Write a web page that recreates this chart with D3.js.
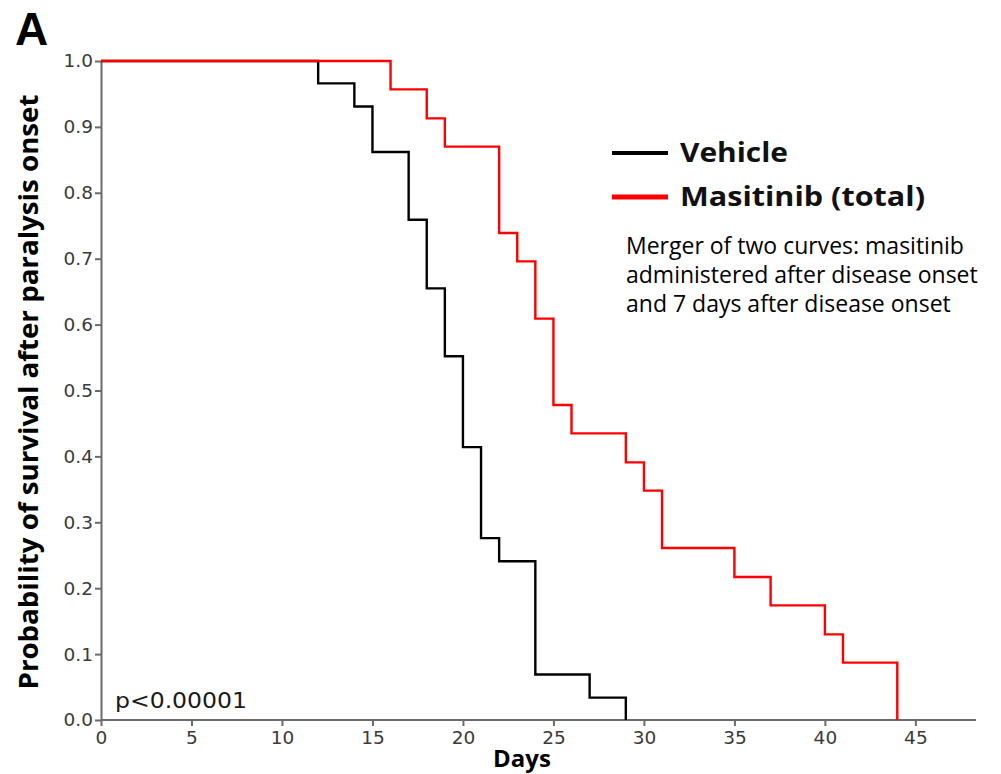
<!DOCTYPE html>
<html lang="en">
	<head>
		<meta charset="utf-8">
		<title>Survival after paralysis onset</title>
		<script src="https://d3js.org/d3.v7.min.js"></script>
		<style type="text/css">
			body { margin: 0; background: #fff; }
			.axis path, .axis line { stroke: #6b6b6b; stroke-width: 2; }
			.axis text { font-family: "DejaVu Sans", sans-serif; font-size: 18.5px; fill: #3a3a3a; }
		</style>
	</head>
	<body>
		<script type="text/javascript">

			//Width and height
			const w = 1001;
			const h = 774;

			// Kaplan-Meier steps: [day, survival]
			const vehicle = [
				[0, 1], [12, 0.966], [14, 0.931], [15, 0.862], [17, 0.759], [18, 0.655],
				[19, 0.552], [20, 0.414], [21, 0.276], [22, 0.241], [24, 0.069], [27, 0.034], [29, 0]
			];
			const masitinib = [
				[0, 1], [16, 0.957], [18, 0.913], [19, 0.870], [22, 0.739], [23, 0.696],
				[24, 0.609], [25, 0.478], [26, 0.435], [29, 0.391], [30, 0.348], [31, 0.261],
				[35, 0.217], [37, 0.174], [40, 0.130], [41, 0.087], [44, 0]
			];
			const xTicks = [0, 5, 10, 15, 20, 25, 30, 35, 40, 45];
			const yTicks = [0, 0.1, 0.2, 0.3, 0.4, 0.5, 0.6, 0.7, 0.8, 0.9, 1.0];
			const legendLabels = ["Vehicle", "Masitinib (total)"];
			const legendColors = ["#000000", "#ff0000"];
			const noteLines = [
				"Merger of two curves: masitinib",
				"administered after disease onset",
				"and 7 days after disease onset"
			];

			const xScale = d3.scaleLinear()
								 .domain([0, 48.35])
								 .range([101, 976]);

			const yScale = d3.scaleLinear()
								 .domain([0, 1])
								 .range([720, 61]);

			const xAxis = d3.axisBottom()
							  .scale(xScale)
							  .tickValues(xTicks)
							  .tickSize(6)
							  .tickSizeOuter(0)
							  .tickFormat(d3.format("d"));

			const yAxis = d3.axisLeft()
							  .scale(yScale)
							  .tickValues(yTicks)
							  .tickSize(6)
							  .tickSizeOuter(0)
							  .tickFormat(d3.format(".1f"));

			const svg = d3.select("body")
						.append("svg")
						.attr("width", w)
						.attr("height", h);

			const gx = svg.append("g")
				.attr("class", "axis")
				.attr("transform", "translate(0,720)")
				.call(xAxis);
			gx.select(".domain").attr("d", "M101,0H976");
			gx.selectAll("text").attr("y", 6).attr("dy", "0.95em");

			const gy = svg.append("g")
				.attr("class", "axis")
				.attr("transform", "translate(101,0)")
				.call(yAxis);
			gy.selectAll("text").attr("x", -8);

			const line = d3.line()
				.x((d) => xScale(d[0]))
				.y((d) => yScale(d[1]))
				.curve(d3.curveStepAfter);

			svg.append("path")
				.datum(vehicle)
				.attr("fill", "none")
				.attr("stroke", legendColors[0])
				.attr("stroke-width", 2.4)
				.attr("d", line);

			svg.append("path")
				.datum(masitinib)
				.attr("fill", "none")
				.attr("stroke", legendColors[1])
				.attr("stroke-width", 2.4)
				.attr("d", line);

			// legend
			legendLabels.forEach((lab, i) => {
				const y = 153 + i * 44;
				svg.append("line")
					.attr("x1", 612).attr("x2", 668)
					.attr("y1", y).attr("y2", y)
					.attr("stroke", legendColors[i])
					.attr("stroke-width", i === 0 ? 4 : 5);
				svg.append("text")
					.attr("x", 680)
					.attr("y", y + 9)
					.attr("font-family", "'Open Sans', sans-serif")
					.attr("font-weight", "bold")
					.attr("font-size", 26)
					.attr("fill", "#111")
					.attr("textLength", i === 0 ? 108 : 245)
					.attr("lengthAdjust", "spacingAndGlyphs")
					.text(lab);
			});

			noteLines.forEach((t, i) => {
				svg.append("text")
					.attr("x", 626)
					.attr("y", 254 + i * 29)
					.attr("font-family", "'Open Sans', sans-serif")
					.attr("font-size", 23)
					.attr("fill", "#000")
					.text(t);
			});

			svg.append("text")
				.attr("x", 115)
				.attr("y", 708)
				.attr("font-family", "'DejaVu Sans', sans-serif")
				.attr("font-size", 21)
				.attr("fill", "#1a1a1a")
				.attr("textLength", 132)
				.attr("lengthAdjust", "spacingAndGlyphs")
				.text("p<0.00001");

			svg.append("text")
				.attr("x", 522)
				.attr("y", 767)
				.attr("text-anchor", "middle")
				.attr("font-family", "'Open Sans', sans-serif")
				.attr("font-weight", "bold")
				.attr("font-size", 24)
				.attr("fill", "#000")
				.text("Days");

			svg.append("text")
				.attr("transform", "translate(38,392) rotate(-90)")
				.attr("text-anchor", "middle")
				.attr("font-family", "'Open Sans', sans-serif")
				.attr("font-weight", "bold")
				.attr("font-size", 27)
				.attr("fill", "#000")
				.attr("textLength", 595)
				.attr("lengthAdjust", "spacingAndGlyphs")
				.text("Probability of survival after paralysis onset");

			svg.append("text")
				.attr("x", 15)
				.attr("y", 45)
				.attr("font-family", "'Liberation Sans', Arial, sans-serif")
				.attr("font-weight", "bold")
				.attr("font-size", 46)
				.attr("fill", "#000")
				.text("A");

		</script>
	</body>
</html>
